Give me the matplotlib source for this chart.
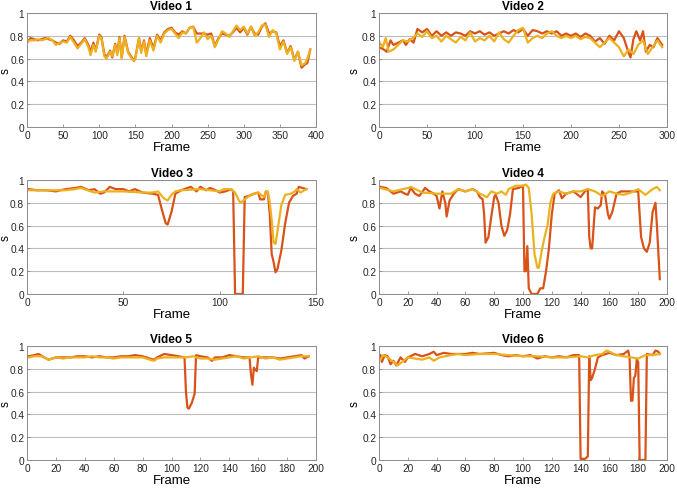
import matplotlib
matplotlib.use("Agg")
import matplotlib.pyplot as plt

plt.rcParams['font.family'] = ['Liberation Sans', 'DejaVu Sans']

RED = '#D95319'
YEL = '#EDB120'

titles = ['Video 1', 'Video 2', 'Video 3', 'Video 4', 'Video 5', 'Video 6']
xlims = [400, 300, 150, 200, 200, 200]
xtick_steps = [50, 50, 50, 20, 20, 20]
yticks = [0, 0.2, 0.4, 0.6, 0.8, 1]
ytick_labels = ['0', '0.2', '0.4', '0.6', '0.8', '1']

# ---------------- Video 1 ----------------
v1_fr = [0, 5, 10, 15, 20, 25, 30, 35, 40, 45, 50, 55, 60, 65, 70, 75, 80, 85, 88, 92, 95,
         100, 103, 107, 110, 115, 118, 122, 125, 128, 131, 135, 140, 145, 148, 150, 155, 158,
         162, 165, 170, 175, 180, 185, 190, 195, 200, 205, 210, 215, 220, 225, 230, 235, 240,
         245, 250, 255, 260, 265, 270, 275, 280, 285, 290, 295, 300, 305, 310, 315, 320, 325,
         330, 335, 340, 345, 350, 355, 360, 365, 370, 375, 380, 385, 388, 392]
v1_red = [0.74, 0.78, 0.77, 0.76, 0.77, 0.78, 0.77, 0.76, 0.74, 0.73, 0.76, 0.75, 0.80, 0.76,
          0.71, 0.74, 0.78, 0.72, 0.66, 0.74, 0.67, 0.81, 0.79, 0.64, 0.61, 0.67, 0.61, 0.73,
          0.65, 0.79, 0.61, 0.80, 0.66, 0.61, 0.58, 0.61, 0.78, 0.67, 0.76, 0.64, 0.78, 0.69,
          0.81, 0.76, 0.83, 0.86, 0.87, 0.83, 0.81, 0.84, 0.82, 0.87, 0.88, 0.82, 0.82, 0.82,
          0.81, 0.82, 0.71, 0.78, 0.82, 0.81, 0.80, 0.83, 0.87, 0.83, 0.87, 0.81, 0.88, 0.82,
          0.81, 0.88, 0.91, 0.82, 0.84, 0.83, 0.71, 0.76, 0.65, 0.71, 0.59, 0.66, 0.52, 0.55,
          0.56, 0.68]
v1_yel = [0.75, 0.76, 0.76, 0.77, 0.76, 0.77, 0.78, 0.76, 0.72, 0.74, 0.75, 0.74, 0.79, 0.74,
          0.69, 0.73, 0.77, 0.70, 0.63, 0.72, 0.66, 0.80, 0.78, 0.62, 0.60, 0.66, 0.62, 0.72,
          0.63, 0.78, 0.60, 0.79, 0.65, 0.60, 0.58, 0.60, 0.78, 0.65, 0.75, 0.62, 0.76, 0.67,
          0.80, 0.74, 0.82, 0.85, 0.86, 0.82, 0.78, 0.83, 0.82, 0.87, 0.88, 0.74, 0.78, 0.83,
          0.77, 0.80, 0.70, 0.77, 0.84, 0.82, 0.79, 0.84, 0.89, 0.85, 0.88, 0.82, 0.88, 0.80,
          0.83, 0.89, 0.90, 0.79, 0.85, 0.82, 0.68, 0.75, 0.64, 0.70, 0.58, 0.66, 0.54, 0.56,
          0.60, 0.68]

# ---------------- Video 2 ----------------
v2_fr_red = [0, 5, 8, 12, 15, 20, 25, 28, 32, 36, 40, 45, 50, 55, 60, 65, 70, 75, 80, 85, 90,
             95, 100, 105, 110, 115, 120, 125, 130, 135, 140, 145, 150, 155, 160, 165, 170, 175,
             180, 185, 190, 195, 200, 205, 210, 215, 220, 225, 230, 235, 240, 245, 250, 255, 260,
             262, 265, 268, 272, 275, 278, 282, 286, 290, 295]
v2_red = [0.70, 0.68, 0.66, 0.76, 0.72, 0.74, 0.76, 0.72, 0.77, 0.74, 0.86, 0.83, 0.86, 0.80,
          0.84, 0.80, 0.83, 0.80, 0.83, 0.82, 0.80, 0.84, 0.82, 0.84, 0.81, 0.83, 0.80, 0.82,
          0.84, 0.82, 0.85, 0.83, 0.86, 0.80, 0.85, 0.84, 0.82, 0.84, 0.82, 0.84, 0.80, 0.82,
          0.80, 0.82, 0.79, 0.82, 0.80, 0.75, 0.78, 0.73, 0.80, 0.76, 0.84, 0.78, 0.65, 0.61,
          0.77, 0.84, 0.76, 0.84, 0.66, 0.72, 0.70, 0.78, 0.72]
v2_fr_yel = [0, 4, 7, 10, 15, 20, 25, 30, 35, 40, 45, 50, 55, 60, 65, 70, 75, 80, 85, 90, 95,
             100, 105, 110, 115, 120, 125, 130, 135, 140, 145, 150, 155, 160, 165, 170, 175, 180,
             185, 190, 195, 200, 205, 210, 215, 220, 225, 230, 235, 240, 245, 250, 255, 260, 265,
             270, 275, 280, 285, 290, 295]
v2_yel = [0.75, 0.70, 0.78, 0.66, 0.68, 0.72, 0.76, 0.75, 0.78, 0.82, 0.79, 0.84, 0.78, 0.80,
          0.75, 0.80, 0.77, 0.74, 0.79, 0.76, 0.83, 0.75, 0.78, 0.76, 0.80, 0.75, 0.83, 0.77,
          0.74, 0.80, 0.85, 0.87, 0.74, 0.78, 0.80, 0.78, 0.82, 0.84, 0.80, 0.78, 0.80, 0.78,
          0.80, 0.77, 0.79, 0.78, 0.74, 0.70, 0.74, 0.78, 0.74, 0.70, 0.62, 0.68, 0.64, 0.72,
          0.76, 0.64, 0.70, 0.76, 0.70]

# ---------------- Video 3 ----------------
v3_fr_red = [1, 5, 10, 15, 20, 25, 28, 32, 35, 38, 40, 43, 46, 50, 53, 56, 60, 65, 68, 70, 72,
             73, 75, 77, 80, 85, 88, 90, 93, 95, 98, 100, 103, 106, 107, 108, 112, 113, 115, 118,
             120, 121, 123, 124, 125, 126, 127, 128, 129, 130, 132, 134, 136, 138, 140, 141, 143,
             145]
v3_red = [0.92, 0.91, 0.91, 0.90, 0.92, 0.93, 0.94, 0.91, 0.92, 0.88, 0.89, 0.94, 0.92, 0.92,
          0.90, 0.92, 0.89, 0.88, 0.87, 0.74, 0.62, 0.61, 0.72, 0.88, 0.91, 0.94, 0.90, 0.94,
          0.91, 0.93, 0.91, 0.89, 0.90, 0.92, 0.90, 0.0, 0.0, 0.85, 0.86, 0.88, 0.89, 0.83, 0.83,
          0.90, 0.89, 0.70, 0.35, 0.28, 0.19, 0.22, 0.38, 0.62, 0.80, 0.86, 0.88, 0.94, 0.93,
          0.92]
v3_fr_yel = [1, 10, 20, 25, 28, 35, 40, 50, 60, 65, 68, 71, 73, 75, 77, 80, 90, 100, 102, 106,
             108, 110, 111, 113, 116, 120, 123, 124, 125, 126, 127, 128, 129, 130, 132, 134, 137,
             139, 140, 142, 145]
v3_yel = [0.91, 0.91, 0.91, 0.92, 0.93, 0.89, 0.90, 0.90, 0.89, 0.89, 0.90, 0.84, 0.82, 0.87,
          0.90, 0.91, 0.92, 0.90, 0.92, 0.92, 0.89, 0.82, 0.80, 0.83, 0.87, 0.89, 0.85, 0.90,
          0.90, 0.80, 0.65, 0.45, 0.44, 0.55, 0.78, 0.87, 0.88, 0.90, 0.92, 0.89, 0.92]

# ---------------- Video 4 ----------------
v4_fr_red = [1, 5, 10, 15, 18, 20, 22, 25, 28, 32, 35, 38, 40, 42, 44, 46, 47, 49, 52, 55, 60,
             65, 68, 70, 72, 73, 74, 76, 78, 80, 81, 83, 85, 87, 89, 91, 93, 97, 100, 101, 102,
             103, 104, 106, 110, 112, 114, 116, 118, 120, 122, 125, 127, 130, 135, 140, 143, 145,
             146, 147, 148, 150, 152, 154, 155, 157, 159, 160, 162, 165, 168, 175, 180, 182, 184,
             186, 188, 190, 192, 193, 195]
v4_red = [0.94, 0.93, 0.88, 0.90, 0.88, 0.87, 0.93, 0.88, 0.86, 0.93, 0.90, 0.88, 0.86, 0.75,
          0.90, 0.80, 0.68, 0.82, 0.88, 0.92, 0.90, 0.92, 0.90, 0.85, 0.83, 0.70, 0.45, 0.50,
          0.68, 0.85, 0.87, 0.80, 0.60, 0.51, 0.56, 0.70, 0.92, 0.93, 0.95, 0.20, 0.20, 0.42,
          0.05, 0.0, 0.0, 0.05, 0.05, 0.20, 0.40, 0.70, 0.88, 0.91, 0.84, 0.88, 0.90, 0.85, 0.90,
          0.92, 0.50, 0.40, 0.40, 0.76, 0.75, 0.78, 0.90, 0.87, 0.70, 0.66, 0.72, 0.88, 0.90,
          0.90, 0.90, 0.50, 0.40, 0.37, 0.45, 0.72, 0.80, 0.60, 0.13]
v4_fr_yel = [1, 10, 20, 22, 30, 40, 45, 50, 55, 60, 65, 70, 75, 78, 82, 85, 88, 90, 95, 100, 102,
             104, 106, 108, 110, 111, 113, 115, 117, 119, 121, 125, 130, 135, 140, 145, 150, 155,
             160, 165, 170, 175, 180, 185, 190, 193, 195]
v4_yel = [0.93, 0.90, 0.93, 0.94, 0.89, 0.88, 0.88, 0.88, 0.92, 0.90, 0.92, 0.88, 0.85, 0.90,
          0.88, 0.90, 0.87, 0.92, 0.95, 0.95, 0.96, 0.93, 0.70, 0.35, 0.23, 0.23, 0.38, 0.50,
          0.60, 0.80, 0.88, 0.90, 0.88, 0.90, 0.90, 0.92, 0.90, 0.86, 0.90, 0.88, 0.87, 0.89,
          0.92, 0.87, 0.92, 0.94, 0.91]

# ---------------- Video 5 ----------------
v5_fr_red = [1, 5, 8, 12, 15, 20, 25, 30, 35, 40, 45, 50, 55, 60, 65, 70, 75, 80, 85, 88, 90, 95,
             100, 105, 109, 110, 111, 112, 114, 116, 117, 120, 125, 128, 130, 135, 140, 145, 150,
             154, 155, 156, 157, 158, 159, 160, 165, 170, 175, 180, 185, 190, 192, 195]
v5_red = [0.91, 0.92, 0.93, 0.90, 0.88, 0.90, 0.90, 0.90, 0.91, 0.91, 0.90, 0.91, 0.90, 0.90,
          0.91, 0.91, 0.92, 0.91, 0.89, 0.88, 0.90, 0.93, 0.92, 0.91, 0.90, 0.60, 0.46, 0.45,
          0.50, 0.58, 0.92, 0.91, 0.90, 0.87, 0.90, 0.90, 0.92, 0.91, 0.90, 0.90, 0.75, 0.66,
          0.81, 0.79, 0.78, 0.90, 0.90, 0.90, 0.89, 0.90, 0.91, 0.92, 0.89, 0.91]
v5_fr_yel = [1, 5, 10, 15, 20, 25, 30, 35, 40, 45, 50, 55, 60, 65, 70, 75, 80, 85, 88, 90, 95,
             100, 105, 110, 115, 120, 125, 130, 135, 140, 145, 150, 155, 160, 165, 170, 175, 180,
             185, 190, 195]
v5_yel = [0.90, 0.91, 0.91, 0.88, 0.90, 0.89, 0.90, 0.90, 0.90, 0.91, 0.90, 0.90, 0.89, 0.90,
          0.90, 0.90, 0.90, 0.88, 0.87, 0.89, 0.90, 0.90, 0.90, 0.90, 0.91, 0.89, 0.89, 0.88,
          0.89, 0.90, 0.91, 0.89, 0.90, 0.91, 0.89, 0.90, 0.88, 0.89, 0.90, 0.91, 0.91]

# ---------------- Video 6 ----------------
v6_fr_red = [1, 2, 4, 6, 8, 10, 12, 15, 18, 20, 25, 30, 35, 38, 40, 45, 50, 55, 60, 65, 70, 80,
             85, 90, 95, 100, 105, 110, 115, 120, 125, 130, 135, 139, 140, 143, 145, 146, 147, 148,
             150, 152, 155, 160, 165, 170, 173, 174, 175, 176, 177, 178, 179, 180, 181, 185, 186,
             190, 192, 194, 195]
v6_red = [0.92, 0.86, 0.92, 0.91, 0.84, 0.87, 0.83, 0.90, 0.86, 0.90, 0.93, 0.91, 0.93, 0.95,
          0.92, 0.94, 0.93, 0.93, 0.93, 0.94, 0.93, 0.94, 0.92, 0.91, 0.92, 0.91, 0.92, 0.89,
          0.91, 0.90, 0.91, 0.90, 0.92, 0.92, 0.01, 0.01, 0.03, 0.91, 0.70, 0.72, 0.80, 0.90,
          0.92, 0.94, 0.92, 0.93, 0.96, 0.90, 0.52, 0.52, 0.72, 0.74, 0.88, 0.86, 0.0, 0.0, 0.93,
          0.92, 0.96, 0.95, 0.93]
v6_fr_yel = [1, 3, 6, 10, 13, 16, 20, 25, 30, 35, 38, 42, 50, 55, 60, 70, 80, 90, 100, 110, 120,
             130, 140, 145, 150, 155, 158, 160, 165, 170, 175, 180, 185, 190, 195]
v6_yel = [0.88, 0.92, 0.90, 0.86, 0.83, 0.86, 0.90, 0.89, 0.88, 0.90, 0.87, 0.90, 0.92, 0.93,
          0.92, 0.93, 0.93, 0.92, 0.91, 0.91, 0.90, 0.90, 0.91, 0.90, 0.92, 0.93, 0.96, 0.95,
          0.92, 0.91, 0.90, 0.89, 0.92, 0.92, 0.93]

series = [
    (v1_fr, v1_red, v1_fr, v1_yel),
    (v2_fr_red, v2_red, v2_fr_yel, v2_yel),
    (v3_fr_red, v3_red, v3_fr_yel, v3_yel),
    (v4_fr_red, v4_red, v4_fr_yel, v4_yel),
    (v5_fr_red, v5_red, v5_fr_yel, v5_yel),
    (v6_fr_red, v6_red, v6_fr_yel, v6_yel),
]

fig = plt.figure(figsize=(6.77, 4.89), dpi=100)

lefts = [27 / 677, 379 / 677]
widths = [289 / 677, 288 / 677]
bottoms = [1 - 128 / 489, 1 - 295 / 489, 1 - 461 / 489]
height = 114 / 489
ylabel_x = [(12 - 27) / 289, (361 - 379) / 288]

for i in range(6):
    r, c = divmod(i, 2)
    ax = fig.add_axes([lefts[c], bottoms[r], widths[c], height])
    fr_r, red, fr_y, yel = series[i]
    ax.plot(fr_r, red, color=RED, lw=1.6, solid_joinstyle='round')
    ax.plot(fr_y, yel, color=YEL, lw=1.6, solid_joinstyle='round')
    ax.set_xlim(0, xlims[i])
    ax.set_ylim(0, 1)
    ax.set_xticks(range(0, xlims[i] + 1, xtick_steps[i]))
    ax.set_yticks(yticks)
    ax.set_yticklabels(ytick_labels)
    ax.grid(axis='y', color='#bdbdbd', lw=0.8)
    ax.set_axisbelow(True)
    for sp in ax.spines.values():
        sp.set_color('#8c8c8c')
        sp.set_linewidth(0.7)
    ax.tick_params(direction='in', length=2.5, width=0.6, color='#8c8c8c',
                   labelsize=7.3, labelcolor='#262626', pad=2)
    ax.set_title(titles[i], fontsize=8.5, fontweight='bold', pad=3)
    ax.set_xlabel('Frame', fontsize=9.5, labelpad=1)
    ax.set_ylabel('s', fontsize=8.5)
    ax.yaxis.set_label_coords(ylabel_x[c], 0.5)

fig.savefig('out.png', dpi=100)
